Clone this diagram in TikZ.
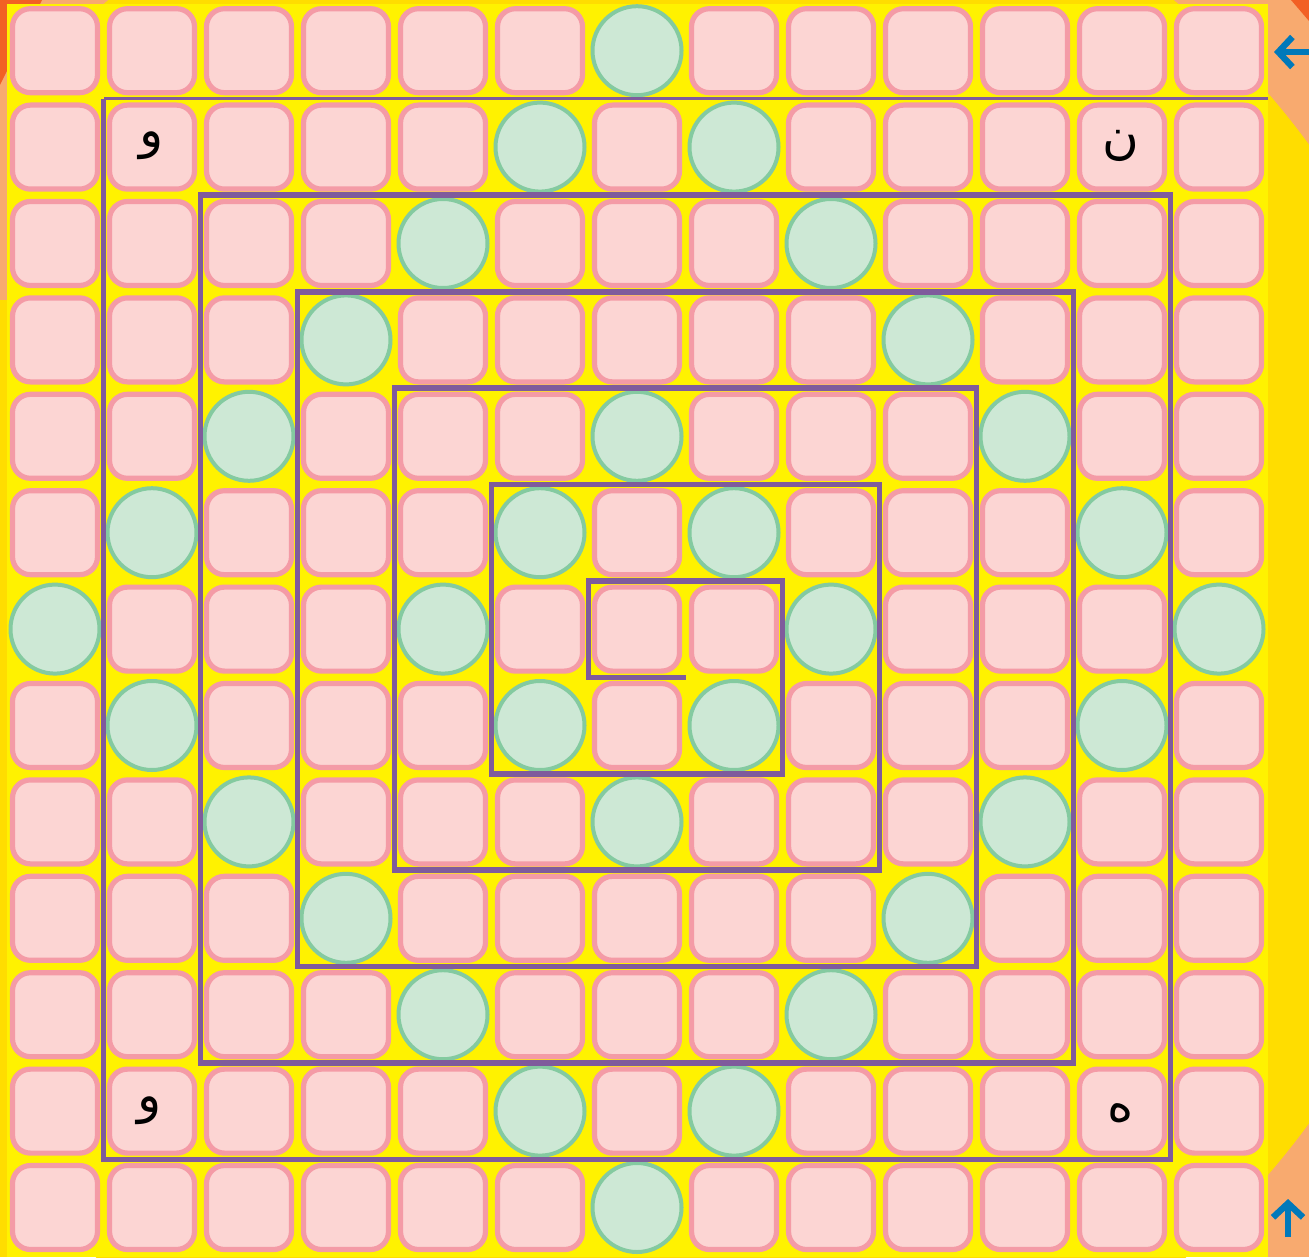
\documentclass[tikz,border=0pt]{standalone}
\usepackage{fontspec}
\newfontfamily\arabicfont[Script=Arabic]{DejaVu Sans}
\TeXXeTstate=1
\usetikzlibrary{arrows.meta}
\definecolor{peach}{HTML}{F8AA6F}
\definecolor{gold}{HTML}{FFDD00}
\definecolor{redorange}{HTML}{F26024}
\definecolor{gridyellow}{HTML}{FFF200}
\definecolor{cellfill}{HTML}{FCD5D3}
\definecolor{cellline}{HTML}{F49BA6}
\definecolor{dotfill}{HTML}{CDE8D5}
\definecolor{dotline}{HTML}{84CAA0}
\definecolor{spiral}{HTML}{7F5B9C}
\definecolor{arrowblue}{HTML}{0079BA}
\begin{document}
\begin{tikzpicture}[x=0.5pt,y=-0.5pt,
  cellbox/.style={draw=cellline,fill=cellfill,line width=2.6pt,rounded corners=9pt,
    minimum width=42.5pt,minimum height=42pt,inner sep=0pt,outer sep=0pt},
  dotbox/.style={circle,draw=dotline,fill=dotfill,line width=2pt,minimum size=44.5pt,inner sep=0pt},
  spiralline/.style={draw=spiral,line width=2.8pt,line join=miter},
  glyph/.style={font=\arabicfont\fontsize{25pt}{25pt}\selectfont,inner sep=0pt},
  bluearrow/.style={draw=arrowblue,line width=3.2pt,-{Straight Barb[length=7pt,width=15pt]}}]
\useasboundingbox (0,0) rectangle (1309,1257);
% background
\fill[peach] (0,0) rectangle (1309,1257);
\begin{scope}
\clip (0,0) rectangle (1309,1257);
\fill[gold] (641,634) circle [radius=828];
\end{scope}
\fill[peach] (0,85) rectangle (6.5,300);
\fill[gold] (0,300) rectangle (6.5,1257);
\fill[redorange] (0,0) -- (42,0) -- (0,85) -- cycle;
\fill[redorange] (1291,0) -- (1309,0) -- (1309,21) -- cycle;
\fill[gridyellow] (6.5,4) rectangle (1267.5,1257);
% cells and dots
\foreach \r in {1,...,13}{
  \foreach \c in {1,...,13}{
    \pgfmathtruncatemacro\d{abs(\r-7)+abs(\c-7)}
    \pgfmathsetmacro\px{55+97*(\c-1)}
    \pgfmathsetmacro\py{50.7+96.4*(\r-1)}
    \ifnum\d=2
      \node[dotbox] (n-\r-\c) at (\px,\py) {};
    \else\ifnum\d=6
      \node[dotbox] (n-\r-\c) at (\px,\py) {};
    \else
      \node[cellbox] (n-\r-\c) at (\px,\py) {};
    \fi\fi
  }
}
% spiral
\draw[spiral,line width=1.4pt] (1267.5,98.9) -- (103.5,98.9);
\draw[spiralline] (103.5,98.9) -- (103.5,1159.3) -- (1170.5,1159.3) -- (1170.5,195.3)
  -- (200.5,195.3) -- (200.5,1062.9) -- (1073.5,1062.9) -- (1073.5,291.7)
  -- (297.5,291.7) -- (297.5,966.5) -- (976.5,966.5) -- (976.5,388.1)
  -- (394.5,388.1) -- (394.5,870.1) -- (879.5,870.1) -- (879.5,484.5)
  -- (491.5,484.5) -- (491.5,773.7) -- (782.5,773.7) -- (782.5,580.9)
  -- (588.5,580.9) -- (588.5,677.3) -- (685.5,677.3);
% letters
\node[glyph] (t-nw) at (152,146) {\beginR و\endR};
\node[glyph] (t-ne) at (1121,146) {\beginR ن\endR};
\node[glyph] (t-sw) at (150,1111) {\beginR و\endR};
\node[glyph] (t-se) at (1121,1113) {\beginR ه\endR};
% blue arrows
\coordinate (a1tail) at (1312,52);
\coordinate (a1head) at (1274,52);
\coordinate (a2tail) at (1288,1237);
\coordinate (a2head) at (1288,1199);
\draw[bluearrow] (a1tail) -- (a1head);
\draw[bluearrow] (a2tail) -- (a2head);
\end{tikzpicture}
\end{document}
